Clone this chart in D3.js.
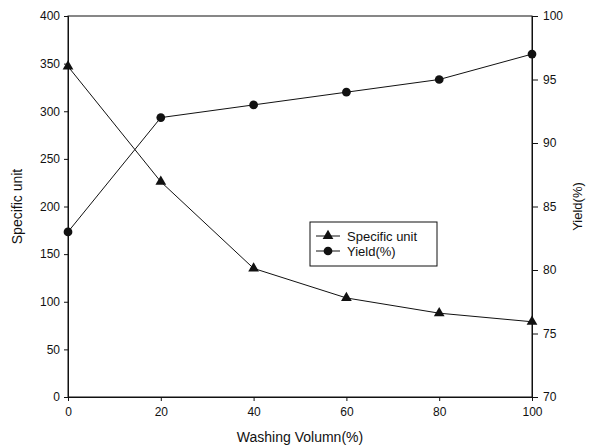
<!DOCTYPE html>
<html>
<head>
<meta charset="utf-8">
<script src="https://cdn.jsdelivr.net/npm/d3@7"></script>
<style>
  body { margin: 0; background: #fff; }
  text { font-family: "Liberation Sans", Arial, sans-serif; fill: #111; }
</style>
</head>
<body>
<div id="chart"></div>
<script>
// data
var washing = [0, 20, 40, 60, 80, 100];
var specificUnit = [347, 226, 135, 104, 88, 79];
var yieldPct = [83, 92, 93, 94, 95, 97];

var xTicks = [0, 20, 40, 60, 80, 100];
var leftTicks = [0, 50, 100, 150, 200, 250, 300, 350, 400];
var rightTicks = [70, 75, 80, 85, 90, 95, 100];

//Width and height
var w = 589;
var h = 448;
var margin = {left: 68, right: 57, top: 16, bottom: 51};

var svg = d3.select("#chart")
    .append("svg")
    .attr("width", w)
    .attr("height", h);

var x = d3.scaleLinear().domain([0, 100]).range([margin.left, w - margin.right]);
var yL = d3.scaleLinear().domain([0, 400]).range([h - margin.bottom, margin.top]);
var yR = d3.scaleLinear().domain([70, 100]).range([h - margin.bottom, margin.top]);

//frame
svg.append("rect")
    .attr("x", x(0))
    .attr("y", yL(400))
    .attr("width", x(100) - x(0))
    .attr("height", yL(0) - yL(400))
    .attr("fill", "none")
    .attr("stroke", "#111")
    .attr("stroke-width", 1);

//axes
var xAxis = svg.append("g")
    .attr("transform", "translate(0," + yL(0) + ")")
    .call(d3.axisBottom(x).tickValues(xTicks).tickSize(4).tickPadding(6));

var leftAxis = svg.append("g")
    .attr("transform", "translate(" + x(0) + ",0)")
    .call(d3.axisLeft(yL).tickValues(leftTicks).tickSize(4).tickPadding(4));

var rightAxis = svg.append("g")
    .attr("transform", "translate(" + x(100) + ",0)")
    .call(d3.axisRight(yR).tickValues(rightTicks).tickSize(6).tickPadding(5));

[xAxis, leftAxis, rightAxis].forEach(function (g) {
    g.selectAll("path").attr("stroke", "#111");
    g.selectAll("line").attr("stroke", "#111");
    g.selectAll("text")
        .style("font-family", "Liberation Sans, Arial, sans-serif")
        .style("font-size", "12px")
        .attr("fill", "#111");
});

//axis titles
svg.append("text")
    .attr("transform", "translate(22," + ((yL(0) + yL(400)) / 2) + ") rotate(-90)")
    .attr("text-anchor", "middle")
    .style("font-size", "14px")
    .text("Specific unit");

svg.append("text")
    .attr("transform", "translate(582," + ((yL(0) + yL(400)) / 2) + ") rotate(-90)")
    .attr("text-anchor", "middle")
    .style("font-size", "13px")
    .text("Yield(%)");

svg.append("text")
    .attr("x", (x(0) + x(100)) / 2)
    .attr("y", 442)
    .attr("text-anchor", "middle")
    .style("font-size", "14px")
    .text("Washing Volumn(%)");

//lines
var lineL = d3.line()
    .x(function (d, i) { return x(washing[i]); })
    .y(function (d) { return yL(d); });
var lineR = d3.line()
    .x(function (d, i) { return x(washing[i]); })
    .y(function (d) { return yR(d); });

svg.append("path")
    .attr("d", lineL(specificUnit))
    .attr("fill", "none")
    .attr("stroke", "#111")
    .attr("stroke-width", 1);

svg.append("path")
    .attr("d", lineR(yieldPct))
    .attr("fill", "none")
    .attr("stroke", "#111")
    .attr("stroke-width", 1);

var tri = d3.symbol().type(d3.symbolTriangle).size(50);
var dot = d3.symbol().type(d3.symbolCircle).size(60);

svg.selectAll(".tri")
    .data(specificUnit)
    .enter().append("path")
    .attr("class", "tri")
    .attr("d", tri)
    .attr("transform", function (d, i) { return "translate(" + x(washing[i]) + "," + yL(d) + ")"; })
    .attr("fill", "#111");

svg.selectAll(".dot")
    .data(yieldPct)
    .enter().append("path")
    .attr("class", "dot")
    .attr("d", dot)
    .attr("transform", function (d, i) { return "translate(" + x(washing[i]) + "," + yR(d) + ")"; })
    .attr("fill", "#111");

//legend
var legend = svg.append("g").attr("transform", "translate(310,222)");
legend.append("rect")
    .attr("width", 127)
    .attr("height", 44)
    .attr("fill", "#fff")
    .attr("stroke", "#111")
    .attr("stroke-width", 1);

var legendItems = [
    {label: "Specific unit", symbol: tri},
    {label: "Yield(%)", symbol: dot}
];
legendItems.forEach(function (item, i) {
    var yy = 14 + i * 15;
    legend.append("line")
        .attr("x1", 6).attr("x2", 30)
        .attr("y1", yy).attr("y2", yy)
        .attr("stroke", "#111");
    legend.append("path")
        .attr("d", item.symbol)
        .attr("transform", "translate(18," + yy + ")")
        .attr("fill", "#111");
    legend.append("text")
        .attr("x", 37)
        .attr("y", yy + 4.5)
        .style("font-size", "13px")
        .text(item.label);
});
</script>
</body>
</html>
